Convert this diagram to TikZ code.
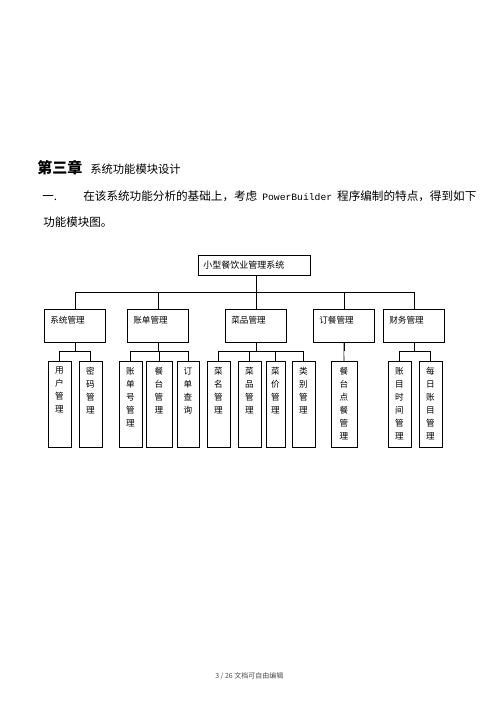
\documentclass[tikz,border=0pt]{standalone}
\usepackage{fontspec}
\setmainfont{Noto Sans CJK SC}
\newfontfamily\monofont{Liberation Mono}
\newcommand{\vlabel}[1]{\parbox[c][74pt][t]{10pt}{\centering #1}}
\begin{document}
\begin{tikzpicture}[x=1pt, y=-1pt, line width=0.6pt,
    root/.style={draw, anchor=north west, minimum width=112pt, minimum height=20pt,
        text width=102pt, inner xsep=5pt, align=left, font=\fontsize{9pt}{11pt}\selectfont},
    mgr/.style={draw, anchor=north west, minimum width=61pt, text width=49pt,
        inner xsep=6pt, inner ysep=4pt, text height=10pt, text depth=15pt,
        align=left, font=\fontsize{8.6pt}{11pt}\selectfont},
    leaf/.style={draw, anchor=north, minimum height=86pt, inner xsep=0pt,
        inner ysep=6pt, font=\fontsize{8.6pt}{13pt}\selectfont}]
    \useasboundingbox (0,0) rectangle (500,708);

    % heading text
    \node (title) [anchor=base west, inner sep=0pt] at (37,174)
        {{\fontsize{15pt}{15pt}\selectfont\bfseries 第三章}\hspace{8pt}{\fontsize{11.3pt}{13pt}\selectfont 系统功能模块设计}};
    \node (num) [anchor=base west, inner sep=0pt, font=\fontsize{11.5pt}{13pt}\selectfont] at (42,201) {一.};
    \node (intro) [anchor=base west, inner sep=0pt, font=\fontsize{11.6pt}{13pt}\selectfont] at (83,201)
        {在该系统功能分析的基础上，考虑\hspace{5pt}{\monofont\fontsize{9.7pt}{13pt}\selectfont PowerBuilder}\hspace{5pt}程序编制的特点，得到如下};
    \node (intro2) [anchor=base west, inner sep=0pt, font=\fontsize{11.5pt}{13pt}\selectfont] at (43,227) {功能模块图。};

    % boxes
    \node (top) [root] at (198,255) {小型餐饮业管理系统};
    \node (sys) [mgr] at (44,309) {系统管理};
    \node (bill) [mgr] at (127,309) {账单管理};
    \node (dish) [mgr] at (225,309) {菜品管理};
    \node (order) [mgr] at (313,309) {订餐管理};
    \node (fin) [mgr] at (383,309) {财务管理};

    \node (user) [leaf, minimum width=23pt] at (59.5,361) {\vlabel{用\\户\\管\\理}};
    \node (pwd) [leaf, minimum width=23pt] at (90.5,361) {\vlabel{密\\码\\管\\理}};
    \node (billno) [leaf, minimum width=23pt] at (130.5,361) {\vlabel{账\\单\\号\\管\\理}};
    \node (table) [leaf, minimum width=26pt] at (159,361) {\vlabel{餐\\台\\管\\理}};
    \node (query) [leaf, minimum width=22pt] at (188,361) {\vlabel{订\\单\\查\\询}};
    \node (dname) [leaf, minimum width=23pt] at (218.5,361) {\vlabel{菜\\名\\管\\理}};
    \node (ditem) [leaf, minimum width=23pt] at (249.5,361) {\vlabel{菜\\品\\管\\理}};
    \node (dprice) [leaf, minimum width=19pt] at (275.5,361) {\vlabel{菜\\价\\管\\理}};
    \node (dtype) [leaf, minimum width=23pt] at (303.5,361) {\vlabel{类\\别\\管\\理}};
    \node (tord) [leaf, minimum width=26pt] at (344,361) {\vlabel{餐\\台\\点\\餐\\管\\理}};
    \node (atime) [leaf, minimum width=23pt] at (399.5,361) {\vlabel{账\\目\\时\\间\\管\\理}};
    \node (daily) [leaf, minimum width=23pt] at (430.5,361) {\vlabel{每\\日\\账\\目\\管\\理}};

    % connectors
    \coordinate (bus) at (0,292);
    \coordinate (sub) at (0,351);
    \draw (top.south -| dish.north) -- (dish.north);
    \draw (sys.north) |- (fin.north |- bus) -- (fin.north);
    \foreach \p in {bill, order}
        \draw (\p.north) -- (\p.north |- bus);
    \foreach \p in {sys, bill, dish, order, fin}
        \draw (\p.south) -- (\p.south |- sub);
    \draw (user.north) |- (pwd.north |- sub) -- (pwd.north);
    \draw (billno.north) |- (query.north |- sub) -- (query.north);
    \draw (table.north) -- (table.north |- sub);
    \draw (dname.north) |- (dtype.north |- sub) -- (dtype.north);
    \foreach \c in {ditem, dprice}
        \draw (\c.north) -- (\c.north |- sub);
    \draw (tord.north) -- (order.south);
    \draw (atime.north) |- (daily.north |- sub) -- (daily.north);

    % page footer
    \node (foot) [anchor=west, inner sep=0pt, text=black!70, font=\fontsize{7pt}{8pt}\selectfont] at (215,676) {3 / 26 文档可自由编辑};
\end{tikzpicture}
\end{document}
